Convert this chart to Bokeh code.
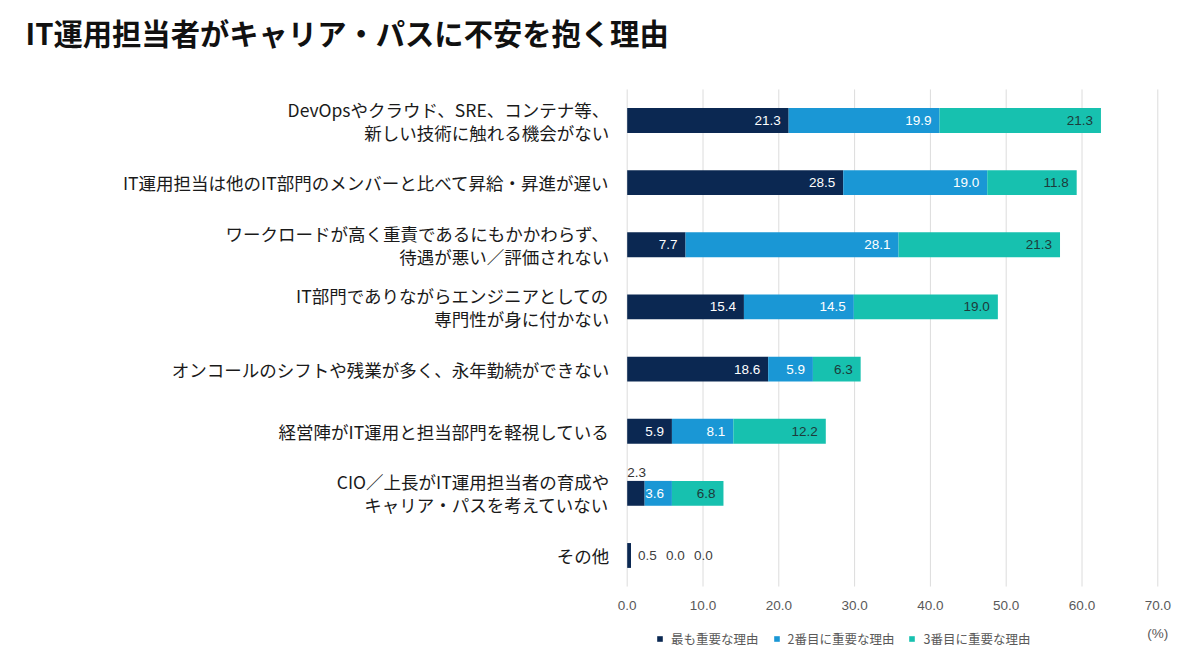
from bokeh.plotting import figure
from bokeh.models import ColumnDataSource, Range1d, Legend, LegendItem
from bokeh.core.properties import value
from bokeh.embed import file_html
from bokeh.resources import INLINE

JP = "Noto Sans CJK JP"
NUM = "Liberation Sans"

categories = [
    "DevOpsやクラウド、SRE、コンテナ等、\n新しい技術に触れる機会がない",
    "IT運用担当は他のIT部門のメンバーと比べて昇給・昇進が遅い",
    "ワークロードが高く重責であるにもかかわらず、\n待遇が悪い／評価されない",
    "IT部門でありながらエンジニアとしての\n専門性が身に付かない",
    "オンコールのシフトや残業が多く、永年勤続ができない",
    "経営陣がIT運用と担当部門を軽視している",
    "CIO／上長がIT運用担当者の育成や\nキャリア・パスを考えていない",
    "その他",
]
most = [21.3, 28.5, 7.7, 15.4, 18.6, 5.9, 2.3, 0.5]
second = [19.9, 19.0, 28.1, 14.5, 5.9, 8.1, 3.6, 0.0]
third = [21.3, 11.8, 21.3, 19.0, 6.3, 12.2, 6.8, 0.0]
series = ["最も重要な理由", "2番目に重要な理由", "3番目に重要な理由"]
x_ticks = [0, 10, 20, 30, 40, 50, 60, 70]
x_tick_labels = ["0.0", "10.0", "20.0", "30.0", "40.0", "50.0", "60.0", "70.0"]
title_text = "IT運用担当者がキャリア・パスに不安を抱く理由"
unit_text = "(%)"

colors = ["#0b2852", "#1a97d5", "#17c1af"]
label_colors = ["#ffffff", "#ffffff", "#1d3b3b"]

# ---- layout (pixels) ----
W, H = 1200, 658
PX = 7.58          # px per percentage point
X0_PX = 626.7      # page x of value 0
ROW_PX = 62.14     # px between rows
ROW0_PX = 120.0    # page y of the first row centre
n = len(categories)

x_start = -X0_PX / PX
x_end = (W - X0_PX) / PX
y_max = (n - 1) + ROW0_PX / ROW_PX
y_min = y_max - H / ROW_PX

ypos = [n - 1 - i for i in range(n)]

p = figure(width=W, height=H, x_range=Range1d(x_start, x_end), y_range=Range1d(y_min, y_max),
           output_backend="svg", toolbar_location=None,
           x_axis_location=None, y_axis_location=None,
           min_border=0, min_border_left=0, min_border_right=0,
           min_border_top=0, min_border_bottom=0)
p.grid.visible = False
p.outline_line_color = None

# grid lines at tick positions over the category band
p.segment(x0=x_ticks, x1=x_ticks, y0=[-0.5] * len(x_ticks), y1=[n - 0.5] * len(x_ticks),
          line_color="#dcdcdc", line_width=1)

src = ColumnDataSource(dict(y=ypos, s1=most, s2=second, s3=third))
rs = p.hbar_stack(["s1", "s2", "s3"], y="y", height=0.4, color=colors, source=src, line_width=0)

# ---- value labels ----
ins = dict(x=[], y=[], text=[], color=[])
above = dict(x=[], y=[], text=[])
outside = dict(x=[], y=[], text=[], xo=[])
for i in range(n):
    vals = [most[i], second[i], third[i]]
    cum = 0.0
    small_row = sum(vals) < 2
    k = 0
    for j, v in enumerate(vals):
        start = cum
        cum += v
        txt = f"{v:.1f}"
        if small_row:
            outside["x"].append(sum(vals))
            outside["y"].append(ypos[i])
            outside["text"].append(txt)
            outside["xo"].append(7 + 28 * k)
            k += 1
        elif v * PX < 22:
            above["x"].append(start)
            above["y"].append(ypos[i])
            above["text"].append(txt)
        else:
            ins["x"].append(cum)
            ins["y"].append(ypos[i])
            ins["text"].append(txt)
            ins["color"].append(label_colors[j])

p.text(x="x", y="y", text="text", text_color="color", source=ColumnDataSource(ins),
       text_align="right", text_baseline="middle", x_offset=-8,
       text_font=value(NUM), text_font_size="13.5px")
p.text(x="x", y="y", text="text", source=ColumnDataSource(above),
       text_align="left", text_baseline="middle", y_offset=-21, text_color="#333333",
       text_font=value(NUM), text_font_size="13.5px")
p.text(x="x", y="y", text="text", x_offset="xo", source=ColumnDataSource(outside),
       text_align="left", text_baseline="middle", text_color="#404040",
       text_font=value(NUM), text_font_size="13.5px")

# ---- category labels (right aligned, split into lines) ----
cat_lines = dict(x=[], y=[], text=[], yo=[])
for i, c in enumerate(categories):
    lines = c.split("\n")
    m = len(lines)
    for li, t in enumerate(lines):
        cat_lines["x"].append(0)
        cat_lines["y"].append(ypos[i])
        cat_lines["text"].append(t)
        cat_lines["yo"].append((li - (m - 1) / 2) * 23)
p.text(x="x", y="y", text="text", y_offset="yo", source=ColumnDataSource(cat_lines),
       text_align="right", text_baseline="middle", x_offset=-18, text_color="#1a1a1a",
       text_font=value(JP), text_font_size="17.5px")

# ---- x tick labels and unit ----
p.text(x=x_ticks, y=[-0.5] * len(x_ticks), text=x_tick_labels, y_offset=19,
       text_align="center", text_baseline="middle", text_color="#595959",
       text_font=value(NUM), text_font_size="13.5px")
p.text(x=[x_ticks[-1]], y=[-0.5], text=[unit_text], y_offset=47,
       text_align="center", text_baseline="middle", text_color="#595959",
       text_font=value(NUM), text_font_size="13.5px")

# ---- title ----
p.text(x=[x_start], y=[y_max], text=[title_text], x_offset=25, y_offset=31,
       text_align="left", text_baseline="middle", text_color="#111111",
       text_font=value(JP), text_font_size="29.3px", text_font_style="bold")

# ---- legend ----
items = [LegendItem(label=series[i], renderers=[rs[i]]) for i in range(3)]
legend = Legend(items=items, orientation="horizontal", location=(656, 10),
                glyph_width=7, glyph_height=7, label_text_font=JP,
                label_text_font_size="12.5px", label_text_color="#595959",
                border_line_color=None, background_fill_alpha=0,
                spacing=14, padding=0, margin=0, label_standoff=8, label_height=20)
p.add_layout(legend, "center")

open("out.html", "w").write(file_html(p, INLINE))
